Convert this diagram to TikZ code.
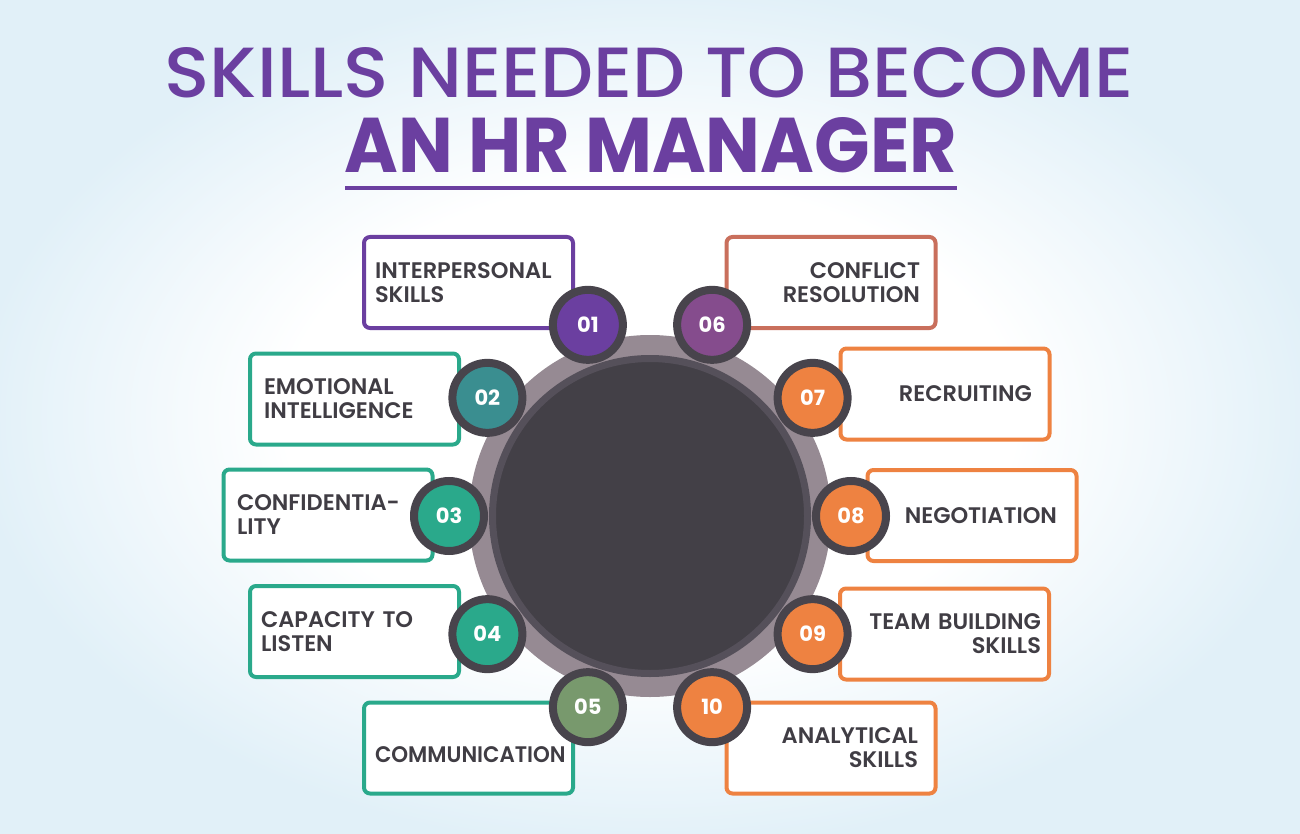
\documentclass[tikz,border=0pt]{standalone}
\usepackage{fontspec}
\usetikzlibrary{calc}
\setmainfont{Poppins}
\newfontfamily\popmed{Poppins Medium}
\newfontfamily\popsemi{Poppins SemiBold}
\newfontfamily\popbold{Poppins Bold}
\definecolor{ttl}{HTML}{6B3FA0}
\definecolor{tealc}{HTML}{2AA98B}
\definecolor{orng}{HTML}{EE8241}
\definecolor{txtc}{HTML}{403D44}
\definecolor{ringc}{HTML}{968A93}
\definecolor{corec}{HTML}{434047}
\definecolor{coreedge}{HTML}{55505A}
\definecolor{rimc}{HTML}{48444C}
\definecolor{bgblue}{HTML}{E1F0F8}
\pgfdeclareradialshading{bgshade}{\pgfpoint{0bp}{0bp}}{color(0bp)=(white); color(14bp)=(white); color(26bp)=(bgblue); color(50bp)=(bgblue)}
\tikzset{
  skillbox/.style={draw=#1, line width=4pt, rounded corners=6pt, fill=white,
    minimum width=209pt, minimum height=91pt, inner sep=0pt, text=txtc,
    font=\popsemi\fontsize{22.5}{24}\selectfont},
  lbox/.style={skillbox=#1, align=left},
  rbox/.style={skillbox=#1, align=right},
  num/.style={circle, fill=#1, draw=rimc, line width=8pt, minimum size=70pt,
    inner sep=0pt, text=white, font=\popbold\fontsize{21}{21}\selectfont},
}
\begin{document}
\begin{tikzpicture}[x=1pt,y=-1pt]
\useasboundingbox (0,0) rectangle (1300,834);
\shade[shading=bgshade] (0,0) rectangle (1300,834);
% title
\node[inner sep=0pt] (t1) at (649,73) {\resizebox{968pt}{50pt}{\color{ttl}\popmed SKILLS NEEDED TO BECOME}};
\node[inner sep=0pt] (t2) at (651,145) {\resizebox{612pt}{55pt}{\color{ttl}\popbold AN HR MANAGER}};
\draw[ttl, line width=4pt] (345,188) -- (957,188);
% boxes
\node[lbox=ttl, text width=187pt] (b1) at (468.5,282.5) {INTERPERSONAL\\SKILLS};
\node[lbox=tealc, text width=181pt] (b2) at (354.5,399) {EMOTIONAL\\INTELLIGENCE};
\node[lbox=tealc, text width=182pt] (b3) at (328,515) {CONFIDENTIA-\\LITY};
\node[lbox=tealc, text width=187pt] (b4) at (354.5,631.5) {CAPACITY TO\\LISTEN};
\node[lbox=tealc, text width=187pt, text height=29pt, text depth=0pt] (b5) at (468.5,748) {\scalebox{0.95}[1]{COMMUNICATION}};
\node[rbox=orng!72!ttl, text width=178pt] (b6) at (831,282.5) {CONFLICT\\RESOLUTION};
\node[rbox=orng, text width=174pt] (b7) at (945,394) {RECRUITING};
\node[rbox=orng, text width=170pt] (b8) at (972,515.5) {NEGOTIATION};
\node[rbox=orng, text width=193pt] (b9) at (944.5,634) {TEAM BUILDING\\SKILLS};
\node[rbox=orng, text width=174pt] (b10) at (831,748) {ANALYTICAL\\SKILLS};
% centre
\node[circle, fill=ringc, minimum size=362pt, inner sep=0pt] (ring) at (650,516) {};
\node[circle, fill=corec, draw=coreedge, line width=7pt, minimum size=315pt, inner sep=0pt] (core) at (650,516) {};
% numbered circles
\node[num=ttl] (c1) at ($(core.center)+(108:201pt)$) {01};
\node[num=tealc!75!ttl] (c2) at ($(core.center)+(144:201pt)$) {02};
\node[num=tealc] (c3) at ($(core.center)+(180:201pt)$) {03};
\node[num=tealc] (c4) at ($(core.center)+(216:201pt)$) {04};
\node[num=tealc!60!orng] (c5) at ($(core.center)+(252:201pt)$) {05};
\node[num=ttl!80!orng] (c6) at ($(core.center)+(72:201pt)$) {06};
\node[num=orng] (c7) at ($(core.center)+(36:201pt)$) {07};
\node[num=orng] (c8) at ($(core.center)+(0:201pt)$) {08};
\node[num=orng] (c9) at ($(core.center)+(-36:201pt)$) {09};
\node[num=orng] (c10) at ($(core.center)+(-72:201pt)$) {10};
\end{tikzpicture}
\end{document}
